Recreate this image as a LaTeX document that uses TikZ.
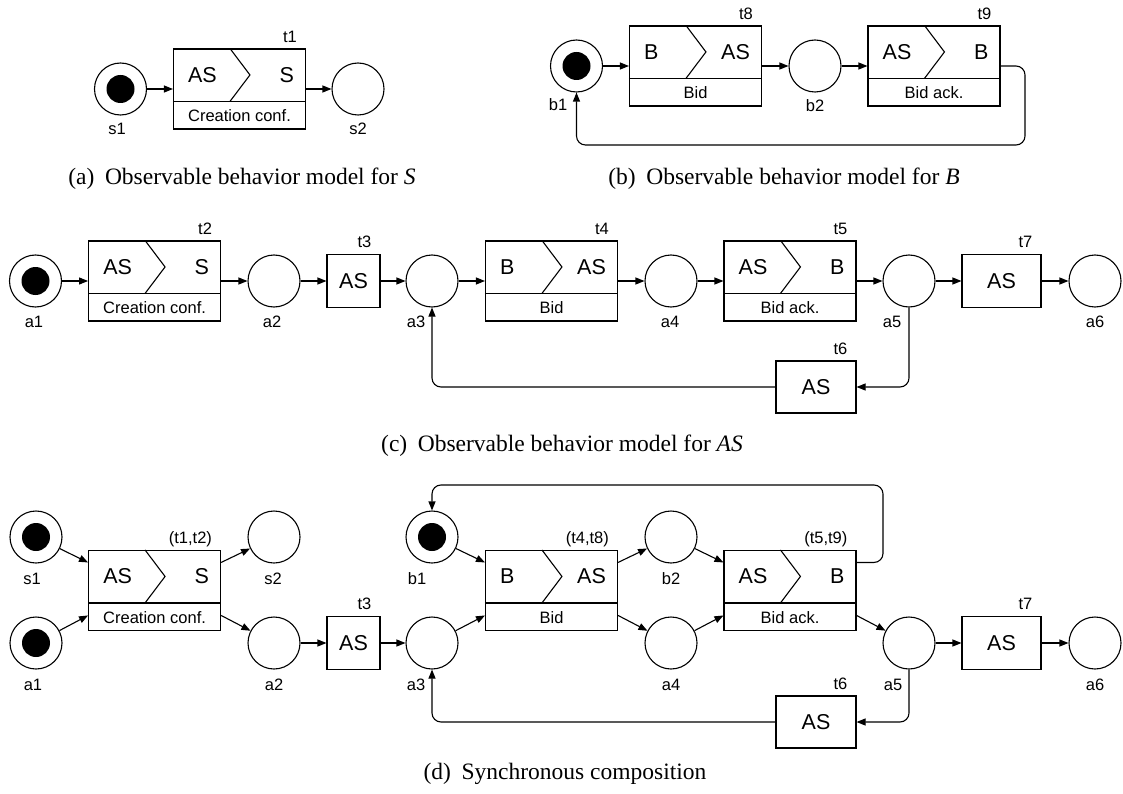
\documentclass[tikz,border=0pt]{standalone}
\usepackage{fontspec}
\setmainfont{Liberation Serif}
\newfontfamily\lsans{Liberation Sans}
\usetikzlibrary{arrows.meta,calc}
\newcommand{\bigfont}{\lsans\fontsize{21.5}{26}\selectfont}
\newcommand{\smallfont}{\lsans\fontsize{16.5}{20}\selectfont}
\newcommand{\capfont}{\fontsize{23.5}{28}\selectfont}
\tikzset{
  place/.style={circle, draw, line width=1.1pt, minimum size=52pt, inner sep=0pt},
  tbox/.style={rectangle, draw, line width=1.1pt, minimum width=132pt, minimum height=80pt, inner sep=0pt},
  sbox/.style={rectangle, draw, line width=1.1pt, inner sep=0pt, font=\bigfont},
  bigtxt/.style={inner sep=0pt, font=\bigfont},
  smalltxt/.style={inner sep=0pt, font=\smallfont},
  lbl/.style={inner sep=0pt, anchor=base, font=\smallfont},
  tlbl/.style={inner sep=0pt, anchor=base east, font=\smallfont},
  captxt/.style={inner sep=0pt, anchor=base, font=\capfont},
  arc/.style={line width=1.1pt, -{Triangle[length=9pt,width=7pt]}},
  loopline/.style={arc, rounded corners=9pt},
  token/.style={circle, fill=black, minimum size=28pt, inner sep=0pt},
}
% #1 name, #2 x, #3 y, #4 left text, #5 right text, #6 bottom text, #7 label
\newcommand{\ctrans}[7]{%
  \node[tbox] (#1) at (#2,#3) {};
  \draw[line width=1.1pt] ($(#1.north west)+(0,53)$) -- ($(#1.north east)+(0,53)$);
  \draw[line width=1.1pt] ($(#1.north west)+(57,0)$) -- ++(20,26.5) -- ++(-20,26.5);
  \node[bigtxt, anchor=west] (#1-l) at ($(#1.north west)+(15,26.5)$) {#4};
  \node[bigtxt, anchor=east] (#1-r) at ($(#1.north east)+(-12,26.5)$) {#5};
  \node[smalltxt] (#1-b) at ($(#1.south)+(0,-13.5)$) {#6};
  \node[tlbl] (#1-n) at ($(#1.north east)+(-9,-6)$) {#7};
  \coordinate (#1-i1) at ($(#1.north west)+(0,12.5)$);
  \coordinate (#1-i2) at ($(#1.north west)+(0,65.5)$);
  \coordinate (#1-o1) at ($(#1.north east)+(0,12.5)$);
  \coordinate (#1-o2) at ($(#1.north east)+(0,65.5)$);
}
\begin{document}
\begin{tikzpicture}[x=1pt,y=-1pt]
\useasboundingbox (0,0) rectangle (1123,794);

% ---------------- (a)
\node[place] (as1) at (120.5,89) {};
\node[token] (as1t) at (as1) {};
\node[lbl] (as1l) at (117,135) {s1};
\ctrans{t1}{239.5}{89}{AS}{S}{Creation conf.}{t1}
\node[place] (as2) at (358,89) {};
\node[lbl] (as2l) at (358,135) {s2};
\draw[arc] (as1) -- (t1);
\draw[arc] (t1) -- (as2);
\node[captxt] (capa) at (242,185) {(a)\hspace{0.45em}Observable behavior model for \textit{S}};

% ---------------- (b)
\node[place] (bb1) at (576.5,66) {};
\node[token] (bb1t) at (bb1) {};
\node[lbl] (bb1l) at (558,111) {b1};
\ctrans{t8}{695.5}{66}{B}{AS}{Bid}{t8}
\node[place] (bb2) at (815,66) {};
\node[lbl] (bb2l) at (815,112) {b2};
\ctrans{t9}{934}{66}{AS}{B}{Bid ack.}{t9}
\coordinate (bcorner) at (1025,145);
\draw[arc] (bb1) -- (t8);
\draw[arc] (t8) -- (bb2);
\draw[arc] (bb2) -- (t9);
\draw[loopline] (t9.east) -| (bcorner) -| (bb1.south);
\node[captxt] (capb) at (784,185) {(b)\hspace{0.45em}Observable behavior model for \textit{B}};

% ---------------- (c)
\node[place] (ca1) at (35.5,281) {};
\node[token] (ca1t) at (ca1) {};
\node[lbl] (ca1l) at (34,327) {a1};
\ctrans{ct2}{154.6}{281}{AS}{S}{Creation conf.}{t2}
\node[place] (ca2) at (274,281) {};
\node[lbl] (ca2l) at (272,327) {a2};
\node[sbox, minimum width=53pt, minimum height=53pt] (ct3) at (353.5,281) {AS};
\node[tlbl] (ct3l) at ($(ct3.north east)+(-9,-6)$) {t3};
\node[place] (ca3) at (432,281) {};
\node[lbl] (ca3l) at (416,327) {a3};
\ctrans{ct4}{551.5}{281}{B}{AS}{Bid}{t4}
\node[place] (ca4) at (671,281) {};
\node[lbl] (ca4l) at (670,327) {a4};
\ctrans{ct5}{790}{281}{AS}{B}{Bid ack.}{t5}
\node[place] (ca5) at (909,281) {};
\node[lbl] (ca5l) at (892,327) {a5};
\node[sbox, minimum width=79pt, minimum height=53pt] (ct7) at (1001.5,281) {AS};
\node[tlbl] (ct7l) at ($(ct7.north east)+(-9,-6)$) {t7};
\node[place] (ca6) at (1095,281) {};
\node[lbl] (ca6l) at (1095,327) {a6};
\node[sbox, minimum width=80pt, minimum height=52pt] (ct6) at (816,387) {AS};
\node[tlbl] (ct6l) at ($(ct6.north east)+(-9,-6)$) {t6};
\draw[arc] (ca1) -- (ct2);
\draw[arc] (ct2) -- (ca2);
\draw[arc] (ca2) -- (ct3);
\draw[arc] (ct3) -- (ca3);
\draw[arc] (ca3) -- (ct4);
\draw[arc] (ct4) -- (ca4);
\draw[arc] (ca4) -- (ct5);
\draw[arc] (ct5) -- (ca5);
\draw[arc] (ca5) -- (ct7);
\draw[arc] (ct7) -- (ca6);
\draw[loopline] (ca5.south) |- (ct6.east);
\draw[loopline] (ct6.west) -| (ca3.south);
\node[captxt] (capc) at (562,451) {(c)\hspace{0.45em}Observable behavior model for \textit{AS}};

% ---------------- (d)
\node[place] (ds1) at (36,537) {};
\node[token] (ds1t) at (ds1) {};
\node[lbl] (ds1l) at (32,584) {s1};
\node[place] (da1) at (36,643) {};
\node[token] (da1t) at (da1) {};
\node[lbl] (da1l) at (33,690) {a1};
\ctrans{t12}{154.6}{590.5}{AS}{S}{Creation conf.}{(t1,t2)}
\node[place] (ds2) at (274,537) {};
\node[lbl] (ds2l) at (273,584) {s2};
\node[place] (da2) at (274,643) {};
\node[lbl] (da2l) at (274,690) {a2};
\node[sbox, minimum width=53pt, minimum height=53pt] (dt3) at (353.5,643) {AS};
\node[tlbl] (dt3l) at ($(dt3.north east)+(-9,-6)$) {t3};
\node[place] (da3) at (432,643) {};
\node[lbl] (da3l) at (416,690) {a3};
\node[place] (db1) at (432,537) {};
\node[token] (db1t) at (db1) {};
\node[lbl] (db1l) at (417,584) {b1};
\ctrans{t48}{551.5}{590.5}{B}{AS}{Bid}{(t4,t8)}
\node[place] (db2) at (671,537) {};
\node[lbl] (db2l) at (671,584) {b2};
\node[place] (da4) at (671,643) {};
\node[lbl] (da4l) at (671,690) {a4};
\ctrans{t59}{790}{590.5}{AS}{B}{Bid ack.}{(t5,t9)}
\node[place] (da5) at (909,643) {};
\node[lbl] (da5l) at (893,690) {a5};
\node[sbox, minimum width=79pt, minimum height=53pt] (dt7) at (1001.5,643) {AS};
\node[tlbl] (dt7l) at ($(dt7.north east)+(-9,-6)$) {t7};
\node[place] (da6) at (1095,643) {};
\node[lbl] (da6l) at (1095,690) {a6};
\node[sbox, minimum width=80pt, minimum height=52pt] (dt6) at (816,722) {AS};
\node[tlbl] (dt6l) at ($(dt6.north east)+(-9,-6)$) {t6};
\coordinate (dtop) at (883,485);
\draw[arc] (ds1) -- (t12-i1);
\draw[arc] (da1) -- (t12-i2);
\draw[arc] (t12-o1) -- (ds2);
\draw[arc] (t12-o2) -- (da2);
\draw[arc] (da2) -- (dt3);
\draw[arc] (dt3) -- (da3);
\draw[arc] (db1) -- (t48-i1);
\draw[arc] (da3) -- (t48-i2);
\draw[arc] (t48-o1) -- (db2);
\draw[arc] (t48-o2) -- (da4);
\draw[arc] (db2) -- (t59-i1);
\draw[arc] (da4) -- (t59-i2);
\draw[arc] (t59-o2) -- (da5);
\draw[arc] (da5) -- (dt7);
\draw[arc] (dt7) -- (da6);
\draw[loopline] (t59-o1) -| (dtop) -| (db1.north);
\draw[loopline] (da5.south) |- (dt6.east);
\draw[loopline] (dt6.west) -| (da3.south);
\node[captxt] (capd) at (565,779) {(d)\hspace{0.45em}Synchronous composition};
\end{tikzpicture}
\end{document}
